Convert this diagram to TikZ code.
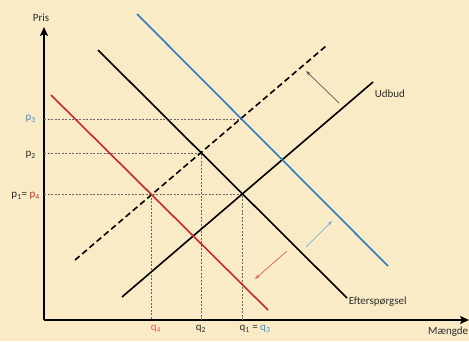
\documentclass[tikz,border=0pt]{standalone}
\usepackage{fontspec}
\setmainfont{Carlito}
\usetikzlibrary{calc, arrows.meta}

\definecolor{bgyellow}{RGB}{248,235,198}
\definecolor{dblue}{RGB}{45,125,195}
\definecolor{lblue}{RGB}{70,145,205}
\definecolor{dred}{RGB}{200,40,45}
\definecolor{lred}{RGB}{225,95,90}
\definecolor{txt}{RGB}{45,45,45}

\tikzset{
  curve/.style={line width=1.6pt},
  guide/.style={gray!80!black, line width=0.6pt, dash pattern=on 2pt off 1.5pt},
  shift arrow/.style={line width=0.7pt, -{Stealth[length=5pt,width=3.5pt]}},
  lbl/.style={text=txt, inner sep=1pt}
}

\begin{document}
\begin{tikzpicture}[x=1pt, y=-1pt, font=\fontsize{11}{13}\selectfont]
            \fill[bgyellow] (0,0) rectangle (469,341);
            \useasboundingbox (0,0) rectangle (469,341);
            % Axes
            \draw[line width=2pt, -{Stealth[length=9pt,width=8pt,inset=2pt]}] (44,320) -- (44,27);
            \draw[line width=2pt, -{Stealth[length=9pt,width=8pt,inset=2pt]}] (44,320) -- (469,320);
            \node[lbl] (pris) at (41,18) {Pris};
            \node[lbl, anchor=west] (maengde) at (427,332) {Mængde};

            % Equilibrium points
            \coordinate (E1) at (242,194); % Udbud = Efterspoergsel
            \coordinate (E2) at (201,153);
            \coordinate (E3) at (242,119);
            \coordinate (E4) at (151,194);

            % Helper lines
            \draw[guide] (44,194) -- (E1) -- (242,320);
            \draw[guide] (44,153) -- (E2) -- (201,320);
            \draw[guide] (44,119) -- (E3);
            \draw[guide] (E4) -- (151,320);

            % Udbud
            \draw[curve] (122,297) -- (373,82) node[lbl, right, yshift=-12pt] {Udbud};
            % Udbud, shifted
            \draw[curve, dash pattern=on 6pt off 3.5pt] (75,260) -- (326,46);
            % Efterspoergsel
            \draw[curve] (98,50) -- (347,298) node[lbl, right, yshift=-4pt] {Efterspørgsel};
            % Efterspoergsel up
            \draw[curve, dblue] (137,14) -- (388,266);
            % Efterspoergsel down
            \draw[curve, dred] (51,95) -- (268,310);

            % Shifts
            \draw[shift arrow, gray!70!black] (339,103) -- (306,71);
            \draw[shift arrow, lblue!70!white] (306,247) -- (332,221);
            \draw[shift arrow, lred] (287,251) -- (255,279);

            % Prices
            \node[lbl, text=lblue, anchor=east] (p3) at (37,119) {p\textsubscript{3}};
            \node[lbl, anchor=east] (p2) at (37,155) {p\textsubscript{2}};
            \node[lbl, anchor=east] (p14) at (41,196) {p\textsubscript{1}= \textcolor{dred}{p\textsubscript{4}}};

            % Quantities
            \node[lbl, text=lred] (q4) at (156,329) {q\textsubscript{4}};
            \node[lbl] (q2) at (201,329) {q\textsubscript{2}};
            \node[lbl] (q13) at (255,329) {q\textsubscript{1} = \textcolor{lblue}{q\textsubscript{3}}};
        \end{tikzpicture}
\end{document}
